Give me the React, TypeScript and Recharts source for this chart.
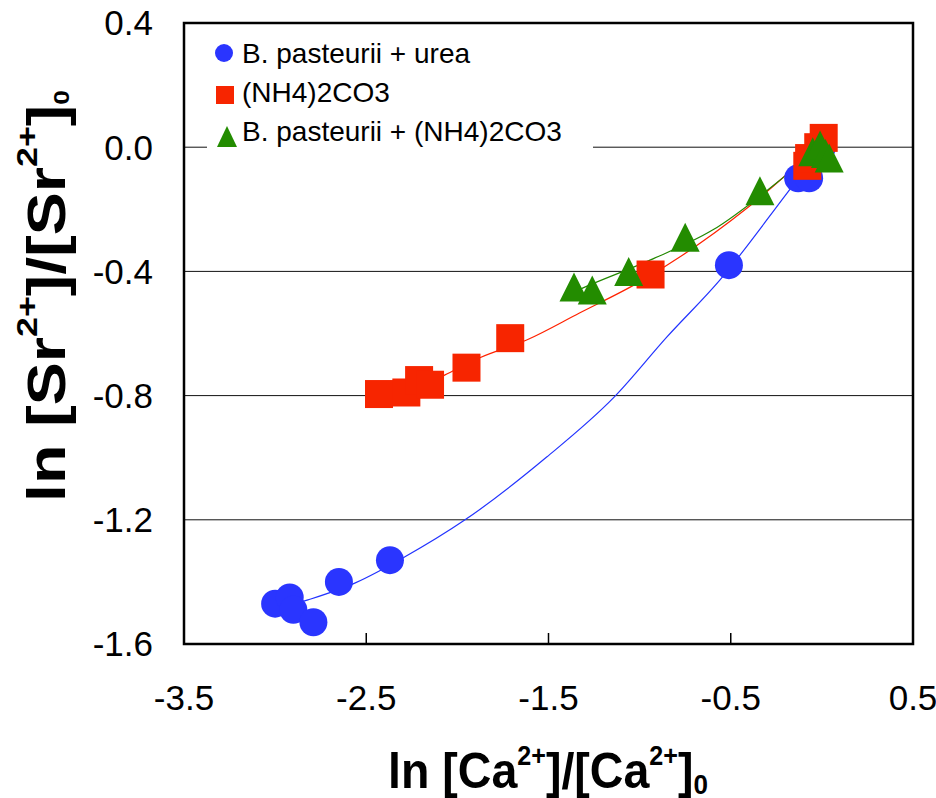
import React from "react";
import {
  ScatterChart,
  Scatter,
  XAxis,
  YAxis,
  CartesianGrid,
  ReferenceArea,
  Legend,
} from "recharts";

// measured points, ln ratios
const BLUE_X = [-3.0, -2.92, -2.9, -2.79, -2.65, -2.37, -0.51, -0.13, -0.07, 0];
const BLUE_Y = [-1.47, -1.45, -1.49, -1.53, -1.4, -1.33, -0.38, -0.1, -0.1, 0];

const RED_X = [-2.43, -2.28, -2.21, -2.15, -1.95, -1.71, -0.94, -0.08, -0.07, -0.02, 0.01];
const RED_Y = [-0.795, -0.79, -0.75, -0.765, -0.71, -0.615, -0.41, -0.06, -0.035, 0.0, 0.03];

const GREEN_X = [-1.36, -1.26, -1.06, -0.75, -0.34, -0.05, -0.01, 0.02, 0.04];
const GREEN_Y = [-0.45, -0.46, -0.4, -0.29, -0.14, -0.015, 0.007, -0.02, -0.035];

// trendlines
const BLUE_FIT_X = [-2.99, -2.82, -2.56, -2.29, -1.96, -1.51, -1.14, -0.85, -0.56, -0.19, 0.0];
const BLUE_FIT_Y = [-1.488, -1.458, -1.403, -1.32, -1.201, -0.998, -0.805, -0.611, -0.428, -0.147, 0.0];

const RED_FIT_X = [-2.43, -2.07, -1.88, -1.62, -1.33, -1.01, -0.41, 0.01];
const RED_FIT_Y = [-0.83, -0.734, -0.679, -0.621, -0.534, -0.437, -0.196, 0.02];

const GREEN_FIT_X = [-1.36, -1.31, -0.94, -0.6, -0.16, 0.02];
const GREEN_FIT_Y = [-0.466, -0.453, -0.363, -0.267, -0.073, 0.013];

const X_TICKS = [-3.5, -2.5, -1.5, -0.5, 0.5];
const Y_TICKS = [-1.6, -1.2, -0.8, -0.4, 0, 0.4];

const SERIES_NAMES = ["B. pasteurii + urea", "(NH4)2CO3", "B. pasteurii + (NH4)2CO3"];

const BLUE = "#2a35ff";
const RED = "#f72500";
const GREEN = "#238c00";

const FONT = "'Liberation Sans', Arial, sans-serif";

const toPoints = (xs: number[], ys: number[]) => xs.map((x, i) => ({ x, y: ys[i] }));

const bluePts = toPoints(BLUE_X, BLUE_Y);
const redPts = toPoints(RED_X, RED_Y);
const greenPts = toPoints(GREEN_X, GREEN_Y);
const blueFit = toPoints(BLUE_FIT_X, BLUE_FIT_Y);
const redFit = toPoints(RED_FIT_X, RED_FIT_Y);
const greenFit = toPoints(GREEN_FIT_X, GREEN_FIT_Y);

const CircleMark = (p: any) => <circle cx={p.cx} cy={p.cy} r={14} fill={BLUE} />;
const SquareMark = (p: any) => <rect x={p.cx - 14} y={p.cy - 14} width={28} height={28} fill={RED} />;
const TriangleMark = (p: any) => (
  <polygon
    points={`${p.cx},${p.cy - 14.5} ${p.cx + 14.5},${p.cy + 14.5} ${p.cx - 14.5},${p.cy + 14.5}`}
    fill={GREEN}
  />
);
const NoMark = () => <g />;

function LegendBox() {
  return (
    <svg width={386} height={126} style={{ display: "block" }}>
      <circle cx={17} cy={23} r={9} fill={BLUE} />
      <rect x={9} y={56} width={18} height={18} fill={RED} />
      <polygon points="20,96 30,117 10,117" fill={GREEN} />
      {SERIES_NAMES.map((name, i) => (
        <text key={name} x={35} y={33 + i * 39} fontSize={28} fontFamily={FONT} fill="#000">
          {name}
        </text>
      ))}
    </svg>
  );
}

const XTitle = () => (
  <text x={388} y={788} fontFamily={FONT} fontWeight="bold" fontSize={50} fill="#000"
    textLength={320} lengthAdjust="spacingAndGlyphs">
    ln [Ca
    <tspan dy={-23} fontSize={27}>2+</tspan>
    <tspan dy={23} fontSize={50}>]/[Ca</tspan>
    <tspan dy={-23} fontSize={27}>2+</tspan>
    <tspan dy={23} fontSize={50}>]</tspan>
    <tspan dy={6} fontSize={28}>0</tspan>
  </text>
);

const YTitle = () => (
  <text x={65} y={502} transform="rotate(-90 65 502)" fontFamily={FONT} fontWeight="bold"
    fontSize={54} fill="#000" textLength={412} lengthAdjust="spacingAndGlyphs">
    ln [Sr
    <tspan dy={-28} fontSize={30}>2+</tspan>
    <tspan dy={28} fontSize={54}>]/[Sr</tspan>
    <tspan dy={-28} fontSize={30}>2+</tspan>
    <tspan dy={28} fontSize={54}>]</tspan>
    <tspan dy={4} fontSize={22}>0</tspan>
  </text>
);

export default function App() {
  return (
    <>
      <style>{"body{margin:0;overflow:hidden}"}</style>
      <ScatterChart width={936} height={798} margin={{ top: 23, right: 23, bottom: 0, left: 0 }}>
        <CartesianGrid vertical={false} stroke="#111" strokeWidth={1} />
        <XAxis
          dataKey="x"
          type="number"
          domain={[-3.5, 0.5]}
          ticks={X_TICKS}
          interval={0}
          height={154}
          axisLine={false}
          tickSize={-11}
          tickMargin={52}
          tickLine={{ stroke: "#000", strokeWidth: 1.5 }}
          tick={{ fontSize: 35, fontFamily: FONT, fill: "#000" }}
          label={{ content: () => <XTitle /> }}
        />
        <YAxis
          dataKey="y"
          type="number"
          domain={[-1.6, 0.4]}
          ticks={Y_TICKS}
          interval={0}
          width={184}
          axisLine={false}
          tickLine={false}
          tickSize={0}
          tickMargin={31}
          tickFormatter={(v: number) => v.toFixed(1)}
          tick={{ fontSize: 35, fontFamily: FONT, fill: "#000" }}
          label={{ content: () => <YTitle /> }}
        />
        <ReferenceArea x1={-3.5} x2={0.5} y1={-1.6} y2={0.4} fill="none" stroke="#000" strokeWidth={2.5} />
        <Scatter data={blueFit} shape={NoMark} line={{ stroke: "#2233ff", strokeWidth: 1.2 }}
          lineJointType="monotoneX" legendType="none" isAnimationActive={false} />
        <Scatter data={redFit} shape={NoMark} line={{ stroke: "#ff2200", strokeWidth: 1.2 }}
          lineJointType="monotoneX" legendType="none" isAnimationActive={false} />
        <Scatter data={greenFit} shape={NoMark} line={{ stroke: "#228800", strokeWidth: 1.2 }}
          lineJointType="monotoneX" legendType="none" isAnimationActive={false} />
        <Scatter name={SERIES_NAMES[0]} data={bluePts} shape={CircleMark} isAnimationActive={false} />
        <Scatter name={SERIES_NAMES[1]} data={redPts} shape={SquareMark} isAnimationActive={false} />
        <Scatter name={SERIES_NAMES[2]} data={greenPts} shape={TriangleMark} isAnimationActive={false} />
        <Legend
          layout="vertical"
          align="center"
          verticalAlign="middle"
          content={() => <LegendBox />}
          wrapperStyle={{ left: 207, top: 30, width: 386, height: 126, backgroundColor: "#fff" }}
        />
      </ScatterChart>
    </>
  );
}
